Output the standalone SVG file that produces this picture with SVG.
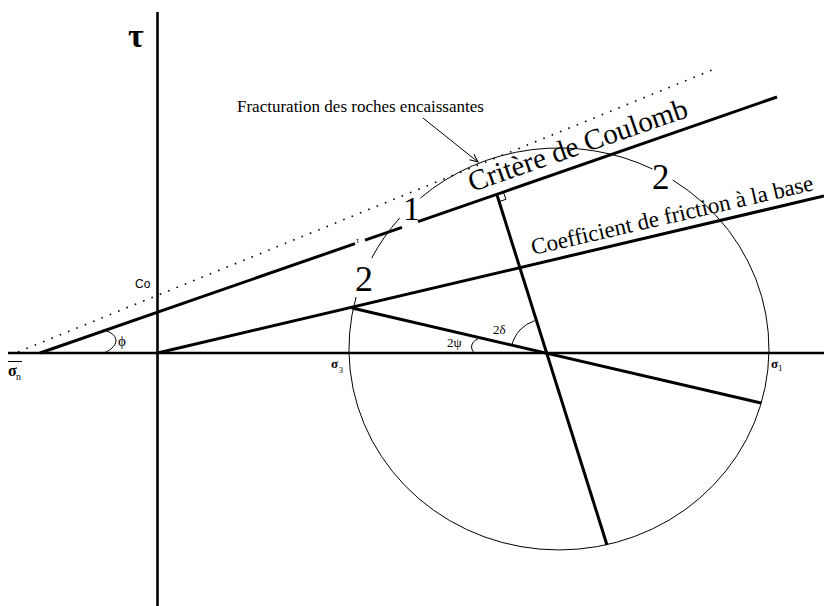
<svg xmlns="http://www.w3.org/2000/svg" width="824" height="606" viewBox="0 0 824 606">
<style>
.ax{stroke:#000;stroke-width:2.6;fill:none;stroke-linecap:butt}
.thick{stroke:#000;stroke-width:3;fill:none}
.thin{stroke:#000;stroke-width:1;fill:none}
.dot{stroke:#000;stroke-width:1.6;fill:none;stroke-dasharray:1.6 7.4}
.serif{font-family:"Liberation Serif","Times New Roman","DejaVu Serif",serif;fill:#000}
.sans{font-family:"Liberation Sans",Arial,sans-serif;fill:#000}
</style>
<defs>
<marker id="arr" markerWidth="10" markerHeight="10" refX="9" refY="4" orient="auto" markerUnits="userSpaceOnUse">
<path d="M1,0.5 L9,4 L1,7.5" fill="none" stroke="#000" stroke-width="1"/>
</marker>
</defs>
<rect width="824" height="606" fill="#fff"/>

<g id="axes">
<line class="ax" x1="8" y1="353" x2="824" y2="353"/>
<line class="ax" x1="157.5" y1="12" x2="157.5" y2="606"/>
</g>

<g id="mohr-circle">
<path class="thin" d="M356.1 297 A210 201 0 1 0 672.7 180"/>
<path class="thin" d="M652.5 169 A210 201 0 0 0 420.4 198"/>
<path class="thin" d="M399.7 218 A210 201 0 0 0 371.7 258"/>
</g>

<g id="connectors">
<line class="dot" x1="18" y1="352" x2="717" y2="68"/>
<line class="thick" x1="40" y1="353" x2="355" y2="243.6"/>
<line class="thick" x1="365" y1="240.1" x2="402" y2="227.3"/>
<line class="thick" x1="418" y1="221.7" x2="777" y2="97"/>
<line class="thick" x1="157.5" y1="353" x2="824" y2="196"/>
<line class="thick" x1="352" y1="308" x2="761" y2="403"/>
<line class="thick" x1="497" y1="195" x2="607" y2="545"/>
<path class="thin" d="M497 195 L503.6 192.7 L505.9 199.3 L499.3 201.6" stroke-width="1.6"/>
<path class="thin" d="M103 330 C118 333 122 345 104 353" stroke-width="1.4"/>
<path class="thin" d="M478 339 C470 342 470 350 475 353" stroke-width="1.4"/>
<path class="thin" d="M511.8 345.6 A34 34 0 0 1 534.8 320.6" stroke-width="1.4"/>
<line class="thin" x1="423" y1="118" x2="478" y2="162" marker-end="url(#arr)"/>
<line class="thin" x1="8" y1="361.5" x2="22" y2="361.5" stroke-width="1.4"/>
</g>

<g id="labels">
<text class="serif" x="128" y="47" font-size="34" font-weight="bold">τ</text>
<text class="serif" x="237" y="112" font-size="17">Fracturation des roches encaissantes</text>
<text class="serif" x="472" y="192" font-size="29" transform="rotate(-19.16 472 192)">Critère de Coulomb</text>
<text class="serif" x="533" y="255" font-size="23" transform="rotate(-13 533 255)">Coefficient de friction à la base</text>
<text class="serif" x="403" y="220" font-size="34">1</text>
<text class="serif" x="355" y="291" font-size="36">2</text>
<text class="serif" x="652" y="189" font-size="35">2</text>
<text class="serif" x="356" y="243" font-size="8">τ</text>
<text class="sans" x="135" y="288" font-size="12">Co</text>
<text class="serif" x="118" y="346" font-size="15">ϕ</text>
<text class="serif" x="8" y="376" font-size="16" font-weight="bold">σ</text>
<text class="serif" x="16" y="380" font-size="10">n</text>
<text class="serif" x="331" y="368" font-size="13" font-weight="bold">σ</text>
<text class="serif" x="339" y="373" font-size="8">3</text>
<text class="serif" x="771" y="368" font-size="13" font-weight="bold">σ</text>
<text class="serif" x="778" y="371" font-size="9">1</text>
<text class="serif" x="447" y="347" font-size="13">2ψ</text>
<text class="serif" x="493" y="334" font-size="13">2δ</text>
</g>
</svg>
